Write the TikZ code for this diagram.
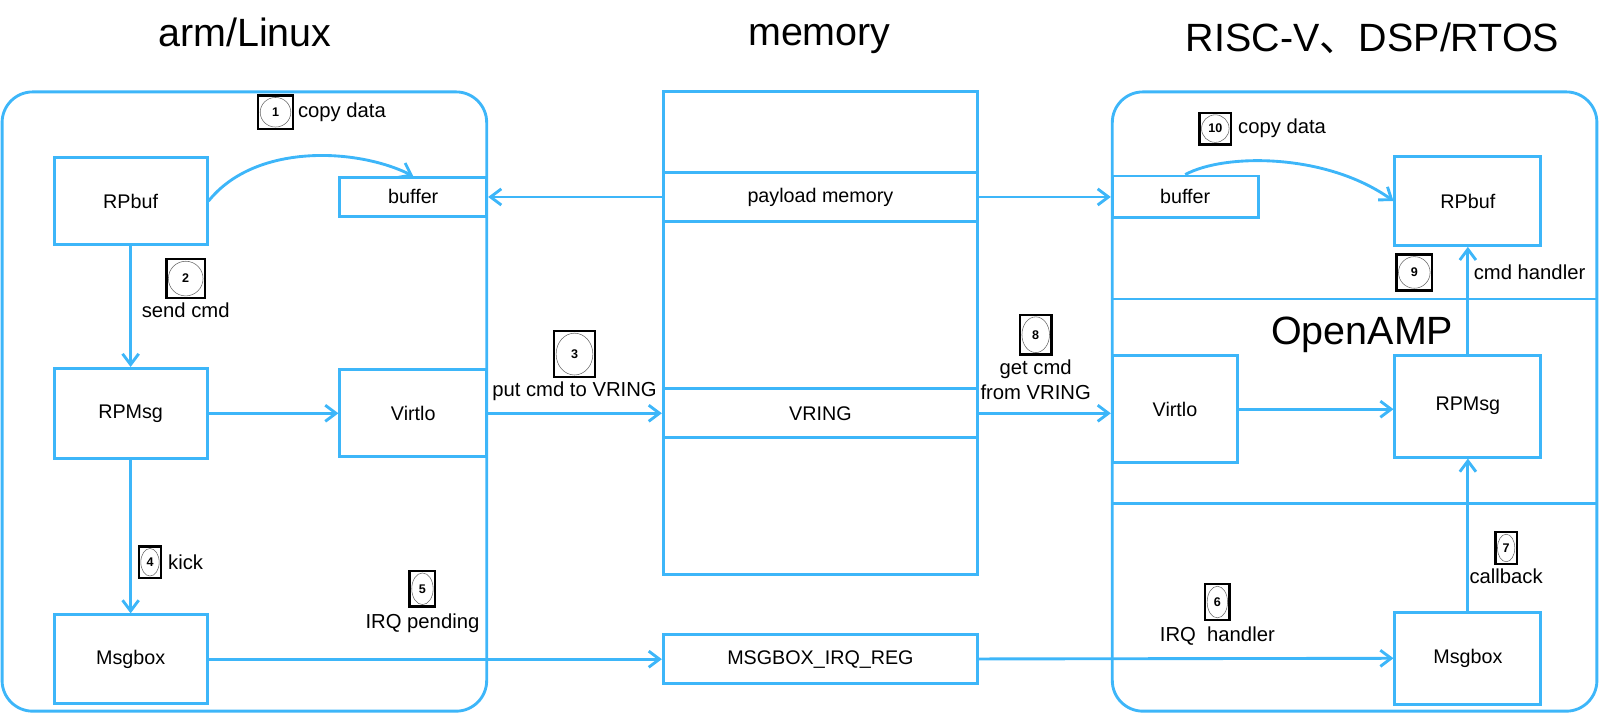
\documentclass[tikz,border=0pt]{standalone}
\usepackage{fontspec}
\setmainfont{Liberation Sans}
\newfontfamily\cjk{Noto Sans CJK SC}
\usetikzlibrary{arrows.meta,positioning}
\definecolor{ampblue}{HTML}{3DB6F9}

\tikzset{
  blk/.style={draw=ampblue, line width=1.6pt, inner sep=0pt, font=\fontsize{11}{13}\selectfont},
  outer/.style={draw=ampblue, line width=1.6pt, rounded corners=0.6cm, inner sep=0pt},
  wire/.style={draw=ampblue, line width=1.6pt},
  title/.style={font=\fontsize{22}{25}\selectfont},
  note/.style={font=\fontsize{11.3}{14}\selectfont, inner sep=1pt},
  stepnum/.style 2 args={draw=black, line width=1.4pt, fill=white, inner sep=0pt,
    minimum width=#1, minimum height=#2, font=\bfseries\fontsize{7}{8}\selectfont,
    path picture={\draw[black!60, line width=0.3pt] (path picture bounding box.center)
      ellipse [x radius=#1/2-0.04cm, y radius=#2/2-0.04cm];}}
}

\begin{document}
\begin{tikzpicture}[x=0.02cm, y=-0.02cm, >={Straight Barb[length=6pt,width=9pt]}]
  \useasboundingbox (0,0) rectangle (1568,700.7);

  % titles
  \node[title] (armt) at (240,32) {arm/Linux};
  \node[title] (memt) at (803,38) {memory};
  \node[title] (rtost) at (1345,38) {RISC-V{\cjk 、}DSP/RTOS};

  % arm/Linux side
  \node[outer, minimum width=9.5cm, minimum height=12.14cm] (arm) at (239.5,393.5) {};
  \node[blk, minimum width=3cm, minimum height=1.7cm] (rpbufL) at (128,197) {RPbuf};
  \node[blk, minimum width=2.88cm, minimum height=0.76cm] (bufferL) at (405,193) {buffer};
  \node[blk, minimum width=3cm, minimum height=1.76cm] (rpmsgL) at (128,405) {RPMsg};
  \node[blk, minimum width=2.88cm, minimum height=1.7cm] (virtioL) at (405,405) {Virtlo};
  \node[blk, minimum width=3cm, minimum height=1.74cm] (msgboxL) at (128,646) {Msgbox};

  % memory
  \node[blk, minimum width=6.16cm, minimum height=9.46cm] (mem) at (804,326.5) {};
  \node[blk, minimum width=6.16cm, minimum height=0.96cm] (payload) at (804,193) {payload memory};
  \node[blk, minimum width=6.16cm, minimum height=0.96cm] (vring) at (804,405) {VRING};
  \node[blk, minimum width=6.16cm, minimum height=0.96cm] (irqreg) at (804,646) {MSGBOX\_IRQ\_REG};

  % RISC-V, DSP/RTOS side
  \node[outer, minimum width=9.5cm, minimum height=12.14cm] (rtos) at (1327.5,393.5) {};
  \draw[wire] (rtos.west |- 0,293) -- (rtos.east |- 0,293);
  \draw[wire] (rtos.west |- 0,493) -- (rtos.east |- 0,493);
  \node[title] (ampt) at (1335,328) {OpenAMP};
  \node[blk, minimum width=2.86cm, minimum height=0.82cm] (bufferR) at (1161.5,193) {buffer};
  \node[blk, minimum width=2.86cm, minimum height=1.74cm] (rpbufR) at (1438.5,197) {RPbuf};
  \node[blk, minimum width=2.46cm, minimum height=2.1cm] (virtioR) at (1151.5,401) {Virtlo};
  \node[blk, minimum width=2.86cm, minimum height=2cm] (rpmsgR) at (1438.5,398) {RPMsg};
  \node[blk, minimum width=2.86cm, minimum height=1.8cm] (msgboxR) at (1438.5,645) {Msgbox};

  % connectors
  \draw[wire, ->] (rpbufL) -- (rpmsgL);
  \draw[wire, ->] (rpmsgL) -- (msgboxL);
  \draw[wire, ->] (rpmsgL) -- (virtioL);
  \draw[wire, ->] (virtioL) -- (vring);
  \draw[wire, ->] (payload) -- (bufferL);
  \draw[wire, ->] (payload) -- (bufferR);
  \draw[wire, ->] (vring.east) -- (vring.east -| virtioR.west);
  \draw[wire, ->] (virtioR.east) -- (virtioR.east -| rpmsgR.west);
  \draw[wire, ->] (rpmsgR) -- (rpbufR);
  \draw[wire, ->] (msgboxR) -- (rpmsgR);
  \draw[wire, ->] (msgboxL) -- (irqreg);
  \draw[wire, ->] (irqreg) -- (msgboxR);
  \draw[wire, ->] (rpbufL.east) .. controls (250,140) and (350,145) .. (bufferL.north);
  \draw[wire, ->] (bufferR.north) .. controls (1200,150) and (1300,150) .. (rpbufR.west);

  % steps
  \node[stepnum={0.68cm}{0.66cm}] (s1) at (270,110) {1};
  \node[note, right=1pt of s1] (l1) {copy data};
  \node[stepnum={0.76cm}{0.76cm}] (s2) at (182,273) {2};
  \node[note, below=1pt of s2] (l2) {send cmd};
  \node[stepnum={0.8cm}{0.9cm}] (s3) at (563,347) {3};
  \node[note, below=1pt of s3] (l3) {put cmd to VRING};
  \node[stepnum={0.44cm}{0.62cm}] (s4) at (147,551) {4};
  \node[note, right=2pt of s4] (l4) {kick};
  \node[stepnum={0.5cm}{0.7cm}] (s5) at (414,577) {5};
  \node[note, below=2pt of s5] (l5) {IRQ pending};
  \node[stepnum={0.48cm}{0.7cm}] (s6) at (1193,590) {6};
  \node[note, below=2pt of s6] (l6) {IRQ\ \ handler};
  \node[stepnum={0.42cm}{0.62cm}] (s7) at (1476,537) {7};
  \node[note, below=1pt of s7] (l7) {callback};
  \node[stepnum={0.62cm}{0.78cm}] (s8) at (1015,328) {8};
  \node[note, below=1pt of s8, align=center] (l8) {get cmd\\from VRING};
  \node[stepnum={0.7cm}{0.7cm}] (s9) at (1386,267) {9};
  \node[note, right=0.75cm of s9] (l9) {cmd handler};
  \node[stepnum={0.62cm}{0.62cm}] (s10) at (1191,126) {10};
  \node[note, right=2pt of s10] (l10) {copy data};
\end{tikzpicture}
\end{document}
